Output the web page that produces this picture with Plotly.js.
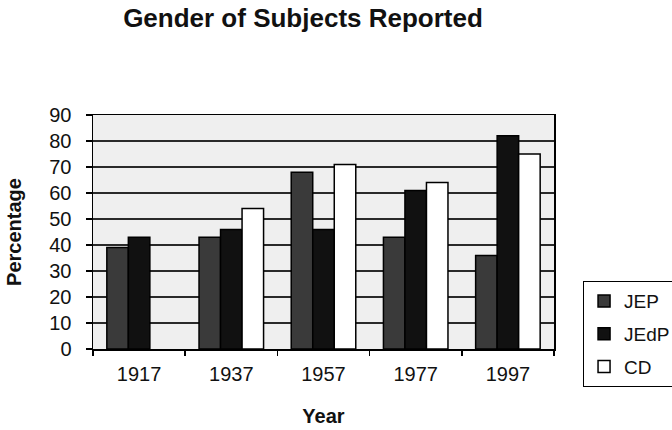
<!DOCTYPE html>
<html>
<head>
<meta charset="utf-8">
<script src="https://cdn.plot.ly/plotly-3.0.1.min.js"></script>
<style>
  html, body { margin: 0; padding: 0; background: #ffffff; }
  #chart { width: 672px; height: 430px; }
</style>
</head>
<body>
<div id="chart"></div>
<script>
// Survey years (category axis)
var years = ['1917', '1937', '1957', '1977', '1997'];

// Percentage values per journal
var jepValues  = [39, 43, 68, 43, 36];
var jedpValues = [43, 46, 46, 61, 82];
var cdValues   = [null, 54, 71, 64, 75];

var seriesNames = ['JEP', 'JEdP', 'CD'];
var yTicks = [0, 10, 20, 30, 40, 50, 60, 70, 80, 90];

var FONT = 'Liberation Sans, Arial, Helvetica, sans-serif';

function barTrace(name, values, fill, group) {
  return {
    type: 'bar',
    name: name,
    x: years,
    y: values,
    legendgroup: group,
    marker: {
      color: fill,
      line: { color: '#000000', width: 1.5 }
    },
    hoverinfo: 'x+y+name'
  };
}

var data = [
  barTrace(seriesNames[0], jepValues, '#3a3a3a', 'g1'),
  barTrace(seriesNames[1], jedpValues, '#111111', 'g2'),
  barTrace(seriesNames[2], cdValues, '#ffffff', 'g3')
];

var layout = {
  width: 672,
  height: 430,
  margin: { l: 93, r: 118, t: 115, b: 81, pad: 0, autoexpand: false },
  paper_bgcolor: '#ffffff',
  plot_bgcolor: '#efefef',
  font: { family: FONT, size: 20, color: '#111111' },
  title: {
    text: '<b>Gender of Subjects Reported</b>',
    font: { family: FONT, size: 26, color: '#111111' },
    x: 303 / 672,
    xanchor: 'center',
    xref: 'container',
    y: 1 - 18 / 430,
    yanchor: 'middle',
    yref: 'container'
  },
  barmode: 'group',
  bargap: 0.3,
  bargroupgap: 0,
  showlegend: true,
  legend: {
    x: 1.063,
    xanchor: 'left',
    y: 0.29,
    yanchor: 'top',
    bgcolor: '#ffffff',
    bordercolor: '#000000',
    borderwidth: 1,
    font: { family: FONT, size: 19, color: '#111111' },
    traceorder: 'grouped',
    tracegroupgap: 5,
    itemwidth: 30
  },
  xaxis: {
    type: 'category',
    tickvals: years,
    ticktext: years,
    showline: true,
    linecolor: '#000000',
    linewidth: 1.5,
    mirror: true,
    ticks: 'outside',
    tickson: 'boundaries',
    ticklen: 5,
    tickcolor: '#000000',
    tickwidth: 1.5,
    ticklabelstandoff: 6,
    showgrid: false,
    tickfont: { family: FONT, size: 20, color: '#111111' },
    title: {
      text: '<b>Year</b>',
      font: { family: FONT, size: 20, color: '#111111' },
      standoff: 25
    }
  },
  yaxis: {
    range: [0, 90],
    tickvals: yTicks,
    ticktext: yTicks.map(String),
    showline: true,
    linecolor: '#000000',
    linewidth: 1.5,
    mirror: true,
    ticks: 'outside',
    ticklen: 6,
    tickcolor: '#000000',
    tickwidth: 1.5,
    ticklabelstandoff: 10,
    showgrid: true,
    gridcolor: '#2a2a2a',
    gridwidth: 1.4,
    zeroline: false,
    tickfont: { family: FONT, size: 20, color: '#111111' },
    title: {
      text: '<b>Percentage</b>',
      font: { family: FONT, size: 20, color: '#111111' },
      standoff: 22
    }
  }
};

Plotly.newPlot('chart', data, layout, { staticPlot: true, displayModeBar: false });
</script>
</body>
</html>
